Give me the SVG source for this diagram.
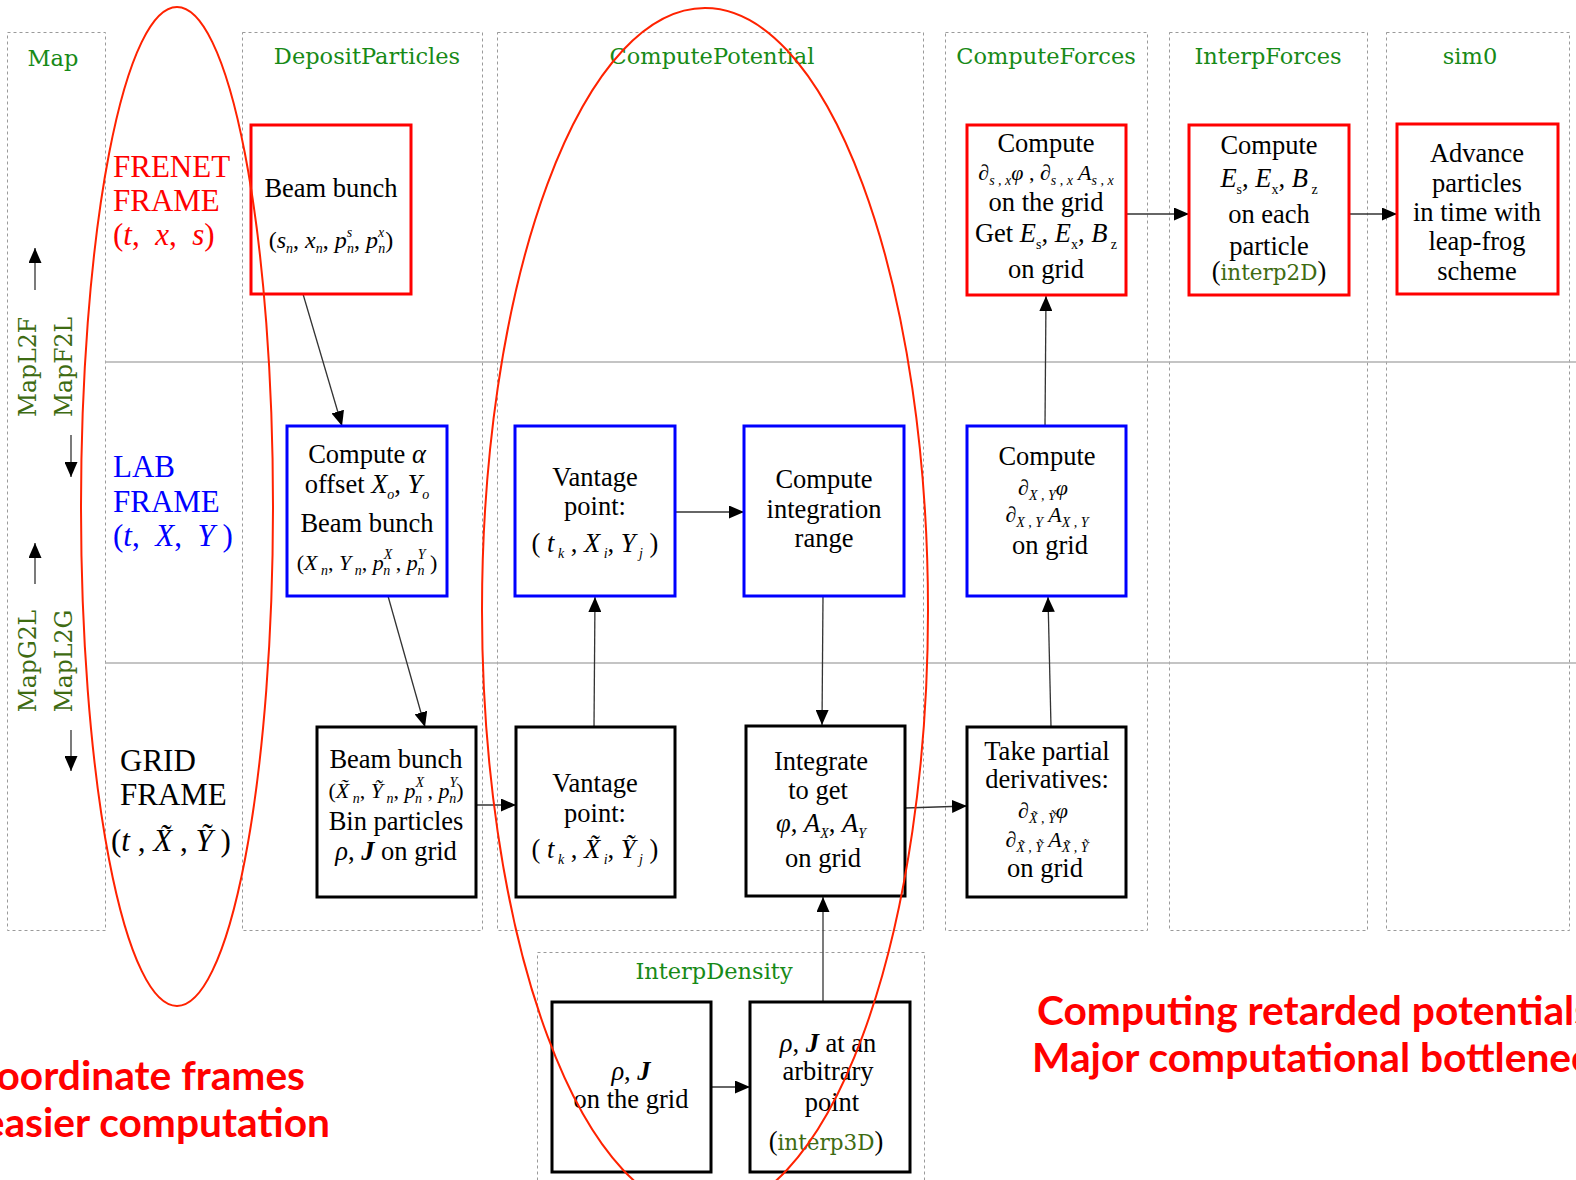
<svg xmlns="http://www.w3.org/2000/svg" width="1576" height="1180" viewBox="0 0 1576 1180">
<style>
.col{fill:none;stroke:#9a9a9a;stroke-width:1;stroke-dasharray:3 3}
.hl{stroke:#b0b0b0;stroke-width:1.5}
.ttl{font-family:"DejaVu Serif",serif;font-size:22.5px;fill:#178a17;text-anchor:middle}
.map{font-family:"DejaVu Serif",serif;font-size:23.5px;fill:#3e6b12;text-anchor:middle}
.fr{font-family:"Liberation Serif",serif;font-size:31px;white-space:pre}
.t{font-family:"Liberation Serif",serif;font-size:26.5px;fill:#000;text-anchor:middle;white-space:pre}
.mt{font-size:22px}
.mt2{font-size:24px}
.i{font-style:italic}
.b{font-weight:bold}
.s{font-size:14px}
.gr{font-family:"DejaVu Serif",serif;font-size:21.5px;fill:#3e6b12}
.box{fill:#fff;stroke-width:3}
.red{stroke:#ff0000}
.blue{stroke:#0000ff}
.blk{stroke:#000}
.cn{stroke:#333;stroke-width:1.3;fill:none;marker-end:url(#ah)}
.ell{fill:none;stroke:#ff2200;stroke-width:2}
.big{font-family:"Lato","Open Sans",sans-serif;font-weight:bold;font-size:40.7px;fill:#ff0000}
</style>
<defs>
<marker id="ah" markerUnits="userSpaceOnUse" markerWidth="15" markerHeight="13" refX="15" refY="6.5" orient="auto">
<path d="M0,0 L15,6.5 L0,13 z" fill="#000"/>
</marker>
</defs>
<rect width="1576" height="1180" fill="#fff"/>

<g id="columns">
<rect class="col" x="7.5" y="32.5" width="98" height="898"/>
<rect class="col" x="242.5" y="32.5" width="240" height="898"/>
<rect class="col" x="497.5" y="32.5" width="426" height="898"/>
<rect class="col" x="945.5" y="32.5" width="202" height="898"/>
<rect class="col" x="1169.5" y="32.5" width="198" height="898"/>
<rect class="col" x="1386.5" y="32.5" width="183" height="898"/>
<rect class="col" x="537.5" y="952.5" width="387" height="240"/>
<line class="hl" x1="105" y1="362" x2="1576" y2="362"/>
<line class="hl" x1="105" y1="663" x2="1576" y2="663"/>
<text class="ttl" x="53" y="66">Map</text>
<text class="ttl" x="367" y="64">DepositParticles</text>
<text class="ttl" x="712" y="64">ComputePotential</text>
<text class="ttl" x="1046" y="64">ComputeForces</text>
<text class="ttl" x="1268" y="64">InterpForces</text>
<text class="ttl" x="1470" y="64">sim0</text>
<text class="ttl" x="714" y="979">InterpDensity</text>
</g>

<g id="map-labels">
<text class="map" transform="translate(36,367) rotate(-90)">MapL2F</text>
<text class="map" transform="translate(72,367) rotate(-90)">MapF2L</text>
<text class="map" transform="translate(36,661) rotate(-90)">MapG2L</text>
<text class="map" transform="translate(72,661) rotate(-90)">MapL2G</text>
</g>

<g id="frame-labels">
<text class="fr" fill="#ff0000" x="113" y="177">FRENET</text>
<text class="fr" fill="#ff0000" x="113" y="211">FRAME</text>
<text class="fr" fill="#ff0000" x="113" y="245">(<tspan class="i">t</tspan>,  <tspan class="i">x</tspan>,  <tspan class="i">s</tspan>)</text>
<text class="fr" fill="#0000ff" x="113" y="477">LAB</text>
<text class="fr" fill="#0000ff" x="113" y="512">FRAME</text>
<text class="fr" fill="#0000ff" x="113" y="546">(<tspan class="i">t</tspan>,  <tspan class="i">X</tspan>,  <tspan class="i">Y</tspan> )</text>
<text class="fr" fill="#000" x="120" y="771">GRID</text>
<text class="fr" fill="#000" x="120" y="805">FRAME</text>
<text class="fr" fill="#000" x="111" y="851">(<tspan class="i">t</tspan> , <tspan class="i">X̃</tspan> , <tspan class="i">Ỹ</tspan> )</text>
</g>

<g id="connectors">
<line class="cn" x1="35" y1="290" x2="35" y2="248"/>
<line class="cn" x1="71" y1="435" x2="71" y2="477"/>
<line class="cn" x1="35" y1="584" x2="35" y2="543"/>
<line class="cn" x1="71" y1="730" x2="71" y2="771"/>
<line class="cn" x1="303" y1="294" x2="342" y2="426"/>
<line class="cn" x1="388" y1="596" x2="425" y2="727"/>
<line class="cn" x1="476" y1="805" x2="516" y2="805"/>
<line class="cn" x1="594" y1="727" x2="595" y2="597"/>
<line class="cn" x1="675" y1="512" x2="744" y2="512"/>
<line class="cn" x1="823" y1="596" x2="822" y2="725"/>
<line class="cn" x1="905" y1="808" x2="967" y2="806"/>
<line class="cn" x1="1051" y1="727" x2="1048" y2="597"/>
<line class="cn" x1="1045" y1="426" x2="1046" y2="296"/>
<line class="cn" x1="1126" y1="214" x2="1189" y2="214"/>
<line class="cn" x1="1349" y1="214" x2="1397" y2="214"/>
<line class="cn" x1="823" y1="1002" x2="823" y2="897"/>
<line class="cn" x1="711" y1="1087" x2="750" y2="1087"/>
</g>

<g id="frenet-beam">
<rect class="box red" x="251" y="125" width="160" height="169"/>
<text class="t" x="331" y="197">Beam bunch</text>
<text class="t mt2" x="331" y="248">(<tspan class="i">s</tspan><tspan class="s i" dy="5">n</tspan><tspan dy="-5">, </tspan><tspan class="i">x</tspan><tspan class="s i" dy="5">n</tspan><tspan dy="-5">, </tspan><tspan class="i">p</tspan><tspan class="s i" dy="-11">s</tspan><tspan class="s i" dx="-5" dy="16">n</tspan><tspan dy="-5">, </tspan><tspan class="i">p</tspan><tspan class="s i" dy="-11">x</tspan><tspan class="s i" dx="-6" dy="16">n</tspan><tspan dy="-5">)</tspan></text>
</g>

<g id="lab-beam">
<rect class="box blue" x="287" y="426" width="160" height="170"/>
<text class="t" x="367" y="463">Compute <tspan class="i">α</tspan></text>
<text class="t" x="367" y="493">offset <tspan class="i">X</tspan><tspan class="s i" dy="6">o</tspan><tspan dy="-6">, </tspan><tspan class="i">Y</tspan><tspan class="s i" dy="6">o</tspan></text>
<text class="t" x="367" y="532">Beam bunch</text>
<text class="t mt" x="367" y="570">(<tspan class="i">X</tspan><tspan class="s i" dy="5"> n</tspan><tspan dy="-5">, </tspan><tspan class="i">Y</tspan><tspan class="s i" dy="5"> n</tspan><tspan dy="-5">, </tspan><tspan class="i">p</tspan><tspan class="s i" dy="-11">X</tspan><tspan class="s i" dx="-9" dy="16">n</tspan><tspan dy="-5"> , </tspan><tspan class="i">p</tspan><tspan class="s i" dy="-11">Y</tspan><tspan class="s i" dx="-8" dy="16">n</tspan><tspan dy="-5"> )</tspan></text>
</g>

<g id="grid-beam">
<rect class="box blk" x="317" y="727" width="159" height="170"/>
<text class="t" x="396" y="768">Beam bunch</text>
<text class="t mt" x="396" y="798">(<tspan class="i">X̃</tspan><tspan class="s i" dy="5"> n</tspan><tspan dy="-5">, </tspan><tspan class="i">Ỹ</tspan><tspan class="s i" dy="5"> n</tspan><tspan dy="-5">, </tspan><tspan class="i">p</tspan><tspan class="s i" dy="-11">X</tspan><tspan class="s i" dx="-9" dy="16">n</tspan><tspan dy="-5"> , </tspan><tspan class="i">p</tspan><tspan class="s i" dy="-11">Y</tspan><tspan class="s i" dx="-8" dy="16">n</tspan><tspan dy="-5">)</tspan></text>
<text class="t" x="396" y="830">Bin particles</text>
<text class="t" x="396" y="860"><tspan class="i">ρ</tspan>, <tspan class="i b">J</tspan> on grid</text>
</g>

<g id="lab-vantage">
<rect class="box blue" x="515" y="426" width="160" height="170"/>
<text class="t" x="595" y="486">Vantage</text>
<text class="t" x="595" y="515">point:</text>
<text class="t" x="595" y="552">( <tspan class="i">t</tspan><tspan class="s i" dy="6"> k</tspan><tspan dy="-6"> , </tspan><tspan class="i">X</tspan><tspan class="s i" dy="6"> i</tspan><tspan dy="-6">, </tspan><tspan class="i">Y</tspan><tspan class="s i" dy="6"> j</tspan><tspan dy="-6"> )</tspan></text>
</g>

<g id="integration-range">
<rect class="box blue" x="744" y="426" width="160" height="170"/>
<text class="t" x="824" y="488">Compute</text>
<text class="t" x="824" y="518">integration</text>
<text class="t" x="824" y="547">range</text>
</g>

<g id="grid-vantage">
<rect class="box blk" x="516" y="727" width="159" height="170"/>
<text class="t" x="595" y="792">Vantage</text>
<text class="t" x="595" y="822">point:</text>
<text class="t" x="595" y="858">( <tspan class="i">t</tspan><tspan class="s i" dy="6"> k</tspan><tspan dy="-6"> , </tspan><tspan class="i">X̃</tspan><tspan class="s i" dy="6"> i</tspan><tspan dy="-6">, </tspan><tspan class="i">Ỹ</tspan><tspan class="s i" dy="6"> j</tspan><tspan dy="-6"> )</tspan></text>
</g>

<g id="integrate">
<rect class="box blk" x="746" y="726" width="159" height="170"/>
<text class="t" x="821" y="770">Integrate</text>
<text class="t" x="818" y="799">to get</text>
<text class="t" x="821" y="832"><tspan class="i">φ</tspan>, <tspan class="i">A</tspan><tspan class="s i" dy="6">X</tspan><tspan dy="-6">, </tspan><tspan class="i">A</tspan><tspan class="s i" dy="6">Y</tspan></text>
<text class="t" x="823" y="867">on grid</text>
</g>

<g id="frenet-forces">
<rect class="box red" x="967" y="125" width="159" height="170"/>
<text class="t" x="1046" y="152">Compute</text>
<text class="t mt" x="1046" y="180"><tspan class="i">∂</tspan><tspan class="s i" dy="5">s , x</tspan><tspan class="i" dy="-5">φ</tspan> , <tspan class="i">∂</tspan><tspan class="s i" dy="5">s , x</tspan><tspan class="i" dy="-5"> A</tspan><tspan class="s i" dy="5">s , x</tspan></text>
<text class="t" x="1046" y="211">on the grid</text>
<text class="t" x="1046" y="242">Get <tspan class="i">E</tspan><tspan class="s" dy="7">s</tspan><tspan dy="-7">, </tspan><tspan class="i">E</tspan><tspan class="s" dy="7">x</tspan><tspan dy="-7">, </tspan><tspan class="i">B</tspan><tspan class="s" dy="7"> z</tspan></text>
<text class="t" x="1046" y="278">on grid</text>
</g>

<g id="lab-forces">
<rect class="box blue" x="967" y="426" width="159" height="170"/>
<text class="t" x="1047" y="465">Compute</text>
<text class="t mt" x="1043" y="495"><tspan class="i">∂</tspan><tspan class="s i" dy="5">X , Y</tspan><tspan class="i" dy="-5">φ</tspan></text>
<text class="t mt" x="1047" y="522"><tspan class="i">∂</tspan><tspan class="s i" dy="5">X , Y</tspan><tspan class="i" dy="-5"> A</tspan><tspan class="s i" dy="5">X , Y</tspan></text>
<text class="t" x="1050" y="554">on grid</text>
</g>

<g id="grid-forces">
<rect class="box blk" x="967" y="727" width="159" height="170"/>
<text class="t" x="1047" y="760">Take partial</text>
<text class="t" x="1047" y="788">derivatives:</text>
<text class="t mt" x="1043" y="818"><tspan class="i">∂</tspan><tspan class="s i" dy="5">X̃ , Ỹ</tspan><tspan class="i" dy="-5">φ</tspan></text>
<text class="t mt" x="1047" y="847"><tspan class="i">∂</tspan><tspan class="s i" dy="5">X̃ , Ỹ</tspan><tspan class="i" dy="-5"> A</tspan><tspan class="s i" dy="5">X̃ , Ỹ</tspan></text>
<text class="t" x="1045" y="877">on grid</text>
</g>

<g id="interp-forces">
<rect class="box red" x="1189" y="125" width="160" height="170"/>
<text class="t" x="1269" y="154">Compute</text>
<text class="t" x="1269" y="187"><tspan class="i">E</tspan><tspan class="s" dy="7">s</tspan><tspan dy="-7">, </tspan><tspan class="i">E</tspan><tspan class="s" dy="7">x</tspan><tspan dy="-7">, </tspan><tspan class="i">B</tspan><tspan class="s" dy="7"> z</tspan></text>
<text class="t" x="1269" y="223">on each</text>
<text class="t" x="1269" y="255">particle</text>
<text class="t" x="1269" y="280">(<tspan class="gr">interp2D</tspan>)</text>
</g>

<g id="sim0">
<rect class="box red" x="1397" y="124" width="161" height="170"/>
<text class="t" x="1477" y="162">Advance</text>
<text class="t" x="1477" y="192">particles</text>
<text class="t" x="1477" y="221">in time with</text>
<text class="t" x="1477" y="250">leap-frog</text>
<text class="t" x="1477" y="280">scheme</text>
</g>

<g id="density-grid">
<rect class="box blk" x="552" y="1002" width="159" height="170"/>
<text class="t" x="631" y="1080"><tspan class="i">ρ</tspan>, <tspan class="i b">J</tspan></text>
<text class="t" x="631" y="1108">on the grid</text>
</g>

<g id="density-point">
<rect class="box blk" x="750" y="1002" width="160" height="170"/>
<text class="t" x="828" y="1052"><tspan class="i">ρ</tspan>, <tspan class="i b">J</tspan> at an</text>
<text class="t" x="828" y="1080">arbitrary</text>
<text class="t" x="832" y="1111">point</text>
<text class="t" x="826" y="1150">(<tspan class="gr">interp3D</tspan>)</text>
</g>

<g id="ellipses">
<ellipse class="ell" cx="177" cy="506.5" rx="96" ry="499.5"/>
<ellipse class="ell" cx="705" cy="610" rx="223" ry="602"/>
</g>

<g id="notes">
<text class="big" x="305" y="1090" text-anchor="end">oordinate frames</text>
<text class="big" x="330" y="1137" text-anchor="end">easier computation</text>
<text class="big" x="1037" y="1025">Computing retarded potentials</text>
<text class="big" x="1032" y="1072">Major computational bottlenec</text>
</g>
</svg>
